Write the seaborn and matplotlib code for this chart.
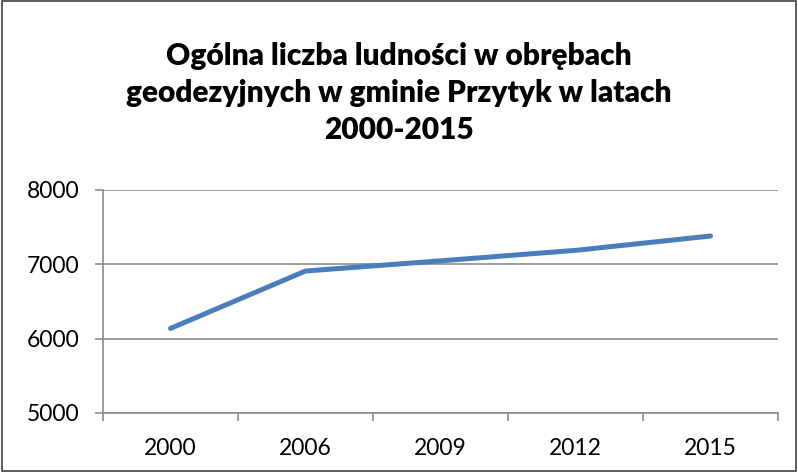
import pandas as pd
import matplotlib.pyplot as plt
import seaborn as sns
from matplotlib.patches import Rectangle
from matplotlib.ticker import FixedLocator

# dane
lata = ['2000', '2006', '2009', '2012', '2015']
ludnosc = [6138, 6910, 7047, 7188, 7381]
y_ticks = [5000, 6000, 7000, 8000]

df = pd.DataFrame({'rok': lata, 'ludnosc': ludnosc})

sns.set_style('white')
plt.rcParams['font.family'] = ['Lato', 'DejaVu Sans']

fig = plt.figure(figsize=(7.98, 4.72), dpi=100)
ax = fig.add_axes([103 / 798, 1 - 413 / 472, (778 - 103) / 798, (413 - 190) / 472])

sns.lineplot(data=df, x='rok', y='ludnosc', ax=ax, color='#4A7EBB',
             linewidth=3.6, solid_capstyle='round', solid_joinstyle='round')

ax.set_xlim(-0.5, len(lata) - 0.5)
ax.set_ylim(5000, 8000)
ax.set_yticks(y_ticks)
ax.yaxis.grid(True, color='#8c8c8c', linewidth=1.2)
ax.set_axisbelow(True)

# podziałki między kategoriami (jak w Excelu)
ax.xaxis.set_minor_locator(FixedLocator([i - 0.5 for i in range(len(lata) + 1)]))
ax.tick_params(axis='x', which='major', length=0, labelsize=16.5, pad=18, labelcolor='black')
ax.tick_params(axis='x', which='minor', length=6, width=1.2, color='#8c8c8c', direction='out', bottom=True)
ax.tick_params(axis='y', length=6, width=1.2, color='#8c8c8c', direction='out', left=True,
               labelsize=16.5, pad=11, labelcolor='black')

for s in ['top', 'right']:
    ax.spines[s].set_visible(False)
for s in ['left', 'bottom']:
    ax.spines[s].set_color('#8c8c8c')
    ax.spines[s].set_linewidth(1.2)

ax.set_xlabel('')
ax.set_ylabel('')

fig.text(0.5, 1 - 93 / 472, 'Ogólna liczba ludności w obrębach\ngeodezyjnych w gminie Przytyk w latach\n2000-2015',
         ha='center', va='center', fontsize=21.5, fontweight='heavy', linespacing=1.4, color='black')

# ramka wykresu
fig.patches.append(Rectangle((0.002, 0.003), 0.995, 0.994, transform=fig.transFigure,
                             fill=False, edgecolor='#404040', linewidth=1.2))

fig.savefig('out.png', dpi=100)
